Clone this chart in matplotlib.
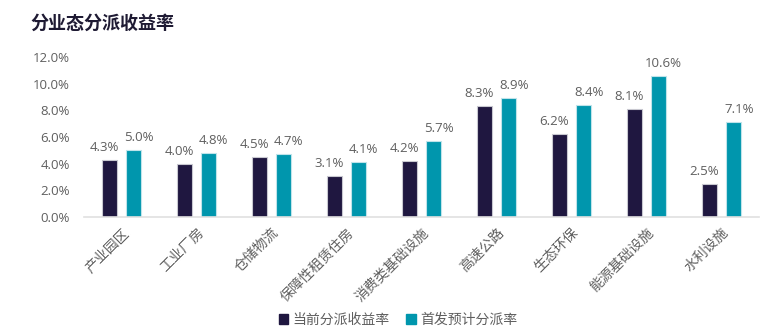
import matplotlib.pyplot as plt
import numpy as np
from matplotlib.patches import Patch

plt.rcParams['font.family'] = ['Noto Sans CJK SC', 'DejaVu Sans']

categories = ['产业园区', '工业厂房', '仓储物流', '保障性租赁住房', '消费类基础设施',
              '高速公路', '生态环保', '能源基础设施', '水利设施']
current_rate = [4.3, 4.0, 4.5, 3.1, 4.2, 8.3, 6.2, 8.1, 2.5]
ipo_rate = [5.0, 4.8, 4.7, 4.1, 5.7, 8.9, 8.4, 10.6, 7.1]
yticks = [0, 2, 4, 6, 8, 10, 12]

dark = '#1f1740'
teal = '#0096ad'
grey = '#5f5f5f'
num_font = ['Open Sans', 'DejaVu Sans']

fig = plt.figure(figsize=(7.61, 3.36), dpi=100)
ax = fig.add_axes([84 / 761, 1 - 217 / 336, 675 / 761, 160 / 336])

x = np.arange(len(categories))
w = 0.2
off = 0.16
ax.bar(x - off, current_rate, w, color=dark, edgecolor='#c8c8d0', linewidth=0.8)
ax.bar(x + off, ipo_rate, w, color=teal, edgecolor='#bfe3ea', linewidth=0.8)

for xi, v in zip(x, current_rate):
    ax.text(xi - off - 0.07, v + 0.45, f'{v:.1f}%', ha='center', va='bottom',
            fontsize=9.5, color=grey, family=num_font)
for xi, v in zip(x, ipo_rate):
    ax.text(xi + off + 0.07, v + 0.45, f'{v:.1f}%', ha='center', va='bottom',
            fontsize=9.5, color=grey, family=num_font)

ax.set_xlim(-0.5, len(categories) - 0.5)
ax.set_ylim(0, 12)
ax.set_yticks(yticks)
ax.set_yticklabels([f'{t:.1f}%' for t in yticks], fontsize=9.5, color=grey,
                   family=num_font)
ax.set_xticks(x)
ax.set_xticklabels(categories, rotation=45, ha='right', rotation_mode='anchor',
                   fontsize=10, color=grey)
ax.tick_params(axis='both', length=0)
ax.tick_params(axis='y', pad=10)
ax.tick_params(axis='x', pad=6)
for s in ['top', 'right', 'left']:
    ax.spines[s].set_visible(False)
ax.spines['bottom'].set_color('#e0e0e0')
ax.spines['bottom'].set_linewidth(1.2)

fig.text(30 / 761, 1 - 23 / 336, '分业态分派收益率', fontsize=13, fontweight='bold',
         color='#1e1a33', va='center', ha='left')

handles = [Patch(color=dark), Patch(color=teal)]
fig.legend(handles, ['当前分派收益率', '首发预计分派率'], loc='center',
           bbox_to_anchor=(398 / 761, 1 - 320 / 336), ncol=2, frameon=False,
           fontsize=10, handlelength=0.7, handleheight=0.7, handletextpad=0.3,
           columnspacing=1.2, labelcolor=grey)

fig.savefig('out.png', dpi=100)
